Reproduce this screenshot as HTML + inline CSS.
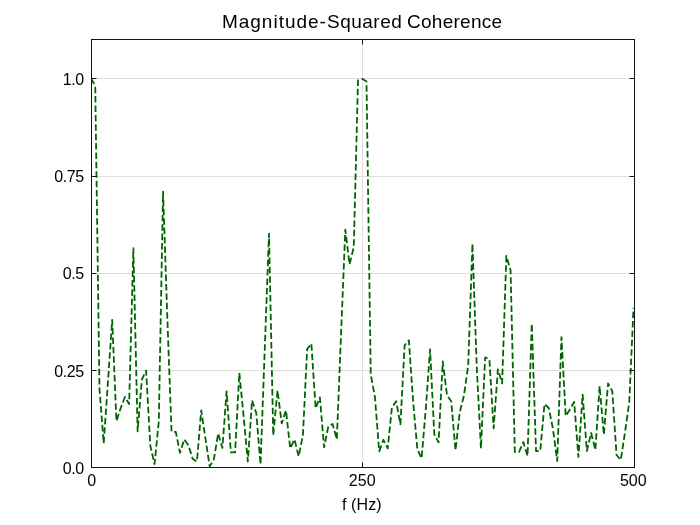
<!DOCTYPE html>
<html><head><meta charset="utf-8"><title>Magnitude-Squared Coherence</title>
<style>
html,body{margin:0;padding:0;background:#fff;}
svg{display:block;}
text{font-family:"Liberation Sans",sans-serif;fill:#000;}
</style></head>
<body>
<svg width="700" height="525" viewBox="0 0 700 525">
<rect x="0" y="0" width="700" height="525" fill="#ffffff"/>
<g stroke="#dedede" stroke-width="1" fill="none">
<line x1="91.5" y1="370.5" x2="634.5" y2="370.5"/>
<line x1="91.5" y1="273.5" x2="634.5" y2="273.5"/>
<line x1="91.5" y1="176.5" x2="634.5" y2="176.5"/>
<line x1="91.5" y1="78.5" x2="634.5" y2="78.5"/>
<line x1="362.5" y1="39.5" x2="362.5" y2="467.5"/>
</g>
<clipPath id="pa"><rect x="91.5" y="39.5" width="543" height="428"/></clipPath>
<polyline clip-path="url(#pa)" fill="none" stroke="#006400" stroke-width="1.8" stroke-dasharray="6.5 2.9" stroke-linejoin="round" points="91.00,78.40 95.24,85.79 99.48,389.02 103.71,443.40 107.95,381.82 112.19,319.97 116.43,421.11 120.67,408.27 124.91,396.99 129.14,403.99 133.38,248.24 137.62,431.38 141.86,379.49 146.10,370.54 150.34,446.00 154.57,464.02 158.81,421.11 163.05,191.60 167.29,316.86 171.53,431.69 175.77,431.81 180.00,452.77 184.24,439.39 188.48,445.38 192.72,459.00 196.96,461.41 201.20,410.37 205.43,438.38 209.67,466.39 213.91,459.39 218.15,433.36 222.39,447.95 226.63,391.35 230.86,452.38 235.10,452.38 239.34,372.87 243.58,416.17 247.82,461.56 252.06,400.38 256.29,413.33 260.53,464.40 264.77,348.75 269.01,233.61 273.25,435.39 277.49,390.38 281.72,423.44 285.96,410.37 290.20,448.38 294.44,439.39 298.68,456.39 302.91,435.39 307.15,349.14 311.39,343.70 315.63,408.35 319.87,397.38 324.11,447.41 328.34,426.36 332.58,423.99 336.82,439.39 341.06,333.97 345.30,229.72 349.54,264.34 353.77,246.99 358.01,80.34 362.25,78.79 366.49,81.51 370.73,374.43 374.97,397.38 379.20,451.37 383.44,439.78 387.68,448.38 391.92,407.49 396.16,401.27 400.40,424.38 404.63,345.25 408.87,340.31 413.11,401.27 417.35,449.39 421.59,458.38 425.83,408.35 430.06,349.34 434.30,434.37 438.54,442.39 442.78,361.32 447.02,395.43 451.26,401.27 455.49,450.40 459.73,412.36 463.97,395.43 468.21,365.48 472.45,243.72 476.69,365.48 480.92,448.38 485.16,357.31 489.40,359.34 493.64,428.38 497.88,369.37 502.12,383.38 506.35,256.02 510.59,270.18 514.83,452.00 519.07,452.00 523.31,442.00 527.54,456.00 531.78,323.59 536.02,450.98 540.26,450.98 544.50,403.99 548.74,408.00 552.97,429.01 557.21,460.98 561.45,337.08 565.69,416.01 569.93,409.44 574.17,402.05 578.40,457.01 582.64,394.66 586.88,450.98 591.12,433.01 595.36,450.01 599.60,386.10 603.83,434.72 608.07,383.38 612.31,391.16 616.55,454.99 620.79,460.01 625.03,432.00 629.26,402.05 633.50,307.91"/>
<g stroke="#141414" stroke-width="1" fill="none">
<rect x="91.5" y="39.5" width="543.0" height="428.0"/>
<line x1="91.5" y1="370.5" x2="96.5" y2="370.5"/>
<line x1="634.5" y1="370.5" x2="629.5" y2="370.5"/>
<line x1="91.5" y1="273.5" x2="96.5" y2="273.5"/>
<line x1="634.5" y1="273.5" x2="629.5" y2="273.5"/>
<line x1="91.5" y1="176.5" x2="96.5" y2="176.5"/>
<line x1="634.5" y1="176.5" x2="629.5" y2="176.5"/>
<line x1="91.5" y1="78.5" x2="96.5" y2="78.5"/>
<line x1="634.5" y1="78.5" x2="629.5" y2="78.5"/>
<line x1="362.5" y1="467.5" x2="362.5" y2="462.5"/>
<line x1="362.5" y1="39.5" x2="362.5" y2="44.5"/>
</g>
<g font-size="16px">
<text x="83.9" y="474.00" text-anchor="end" letter-spacing="-0.35">0.0</text>
<text x="83.9" y="376.75" text-anchor="end" letter-spacing="-0.35">0.25</text>
<text x="83.9" y="278.70" text-anchor="end" letter-spacing="-0.35">0.5</text>
<text x="83.9" y="181.80" text-anchor="end" letter-spacing="-0.35">0.75</text>
<text x="83.9" y="85.00" text-anchor="end" letter-spacing="-0.35">1.0</text>
<text x="91.80" y="485.7" text-anchor="middle">0</text>
<text x="362.20" y="485.7" text-anchor="middle">250</text>
<text x="633.30" y="485.7" text-anchor="middle">500</text>
<text x="361.8" y="509.8" text-anchor="middle" letter-spacing="0.12">f (Hz)</text>
</g>
<text x="221.9" y="28.1" font-size="19px"><tspan letter-spacing="1.0">Magnitude-</tspan><tspan letter-spacing="0.5">Squared</tspan><tspan letter-spacing="-0.5"> </tspan><tspan letter-spacing="0.25">Coherence</tspan></text>
</svg>
</body></html>
